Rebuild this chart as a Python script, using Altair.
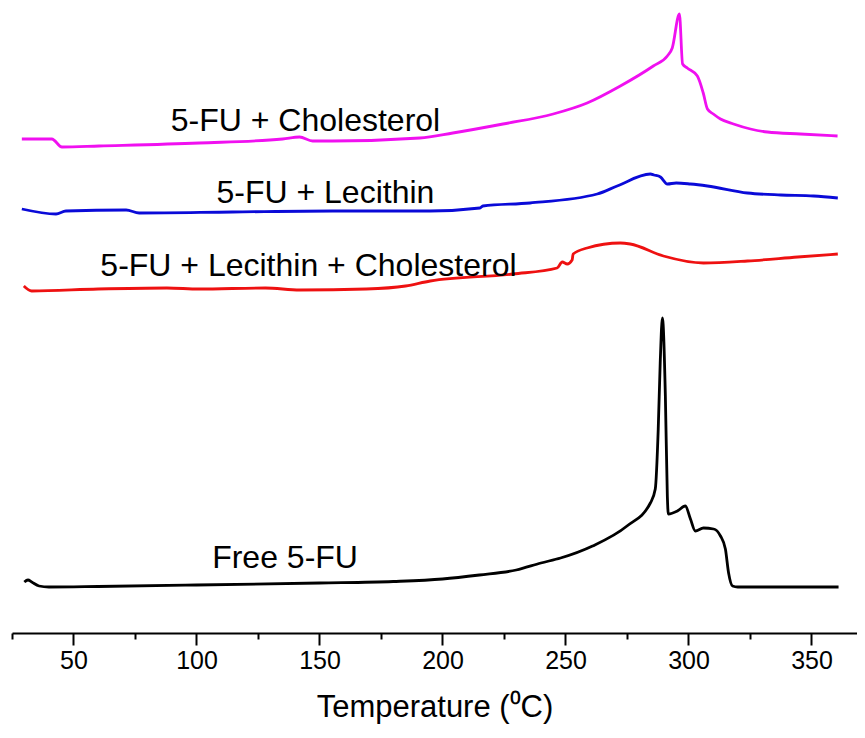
import altair as alt
import pandas as pd

# ---- data (heat flow in arbitrary, offset units) ----
free_t = [30, 31.5, 33, 36, 40, 60, 100, 150, 180, 200, 215, 230, 240, 248, 261, 275,
          284.5, 286.5, 287.7, 288.5, 289.4, 290.6, 291.4, 291.8, 295.5, 298.7, 300.8,
          302.8, 306.1, 310.2, 313, 315, 316.3, 317.9, 320, 361]
free_h = [5.1, 5.3, 5.1, 4.7, 4.6, 4.65, 4.8, 5.0, 5.15, 5.4, 5.8, 6.3, 7.0, 7.5, 8.7, 10.7,
          13.0, 14.4, 20.4, 27.0, 31.5, 23.7, 13.7, 11.9, 12.2, 12.7, 11.4,
          10.2, 10.5, 10.4, 9.7, 8.4, 6.0, 4.7, 4.6, 4.6]

chol_t = [29, 41.2, 45.3, 60.4, 101.1, 135, 141.9, 147.2, 155.3, 190.8, 204.2, 224.6, 245,
          258.8, 272.3, 285.7, 291.4, 293.4, 296.3, 297.6, 299.5, 303.6, 306, 307.7, 310.1,
          313, 318.3, 325.2, 332.1, 345.5, 360.6]
chol_h = [49.4, 49.4, 48.6, 48.7, 49.0, 49.4, 49.6, 49.2, 49.2, 49.5, 50.0, 50.9, 51.9,
          53.0, 54.7, 56.7, 57.7, 58.5, 61.9, 56.9, 56.5, 55.7, 54.0, 52.4, 51.9,
          51.4, 50.9, 50.4, 50.1, 49.9, 49.7]

lec_t = [29, 42.9, 46.9, 71.4, 76.7, 114.6, 155.3, 194.9, 215.2, 216.4, 235.6, 262.9, 271,
         284.5, 286, 288.6, 291.4, 295, 300.8, 307.7, 324, 337.5, 350.9, 360.7]
lec_h = [42.4, 41.9, 42.2, 42.3, 42.0, 42.1, 42.2, 42.2, 42.5, 42.7, 43.0, 43.9, 44.7,
         45.9, 45.8, 45.6, 44.9, 45.0, 44.9, 44.7, 44.0, 43.8, 43.7, 43.5]

lc_t = [29.8, 33, 60, 88, 101, 128, 142, 169, 185, 195, 228.7, 246.6, 248.7, 250.7, 252.7,
        253.1, 258.8, 272.3, 276.3, 289.8, 306.1, 324, 344.4, 360.7]
lc_h = [34.7, 34.2, 34.4, 34.5, 34.4, 34.5, 34.3, 34.4, 34.7, 35.2, 35.9, 36.5, 37.1, 36.9, 37.3,
        37.9, 38.5, 39.0, 38.9, 37.7, 37.0, 37.2, 37.6, 37.9]

series_names = ["Free 5-FU", "5-FU + Cholesterol", "5-FU + Lecithin",
                "5-FU + Lecithin + Cholesterol"]
series_colors = ["#000000", "#F010F0", "#0A0AD8", "#EE1111"]

# label annotations (temperature, heat flow)
label_text = ["5-FU + Cholesterol", "5-FU + Lecithin", "5-FU + Lecithin + Cholesterol", "Free 5-FU"]
label_t = [144.3, 152.4, 145.5, 136.0]
label_h = [51.2, 44.0, 36.7, 7.5]

x_ticks = [25, 50, 75, 100, 125, 150, 175, 200, 225, 250, 275, 300, 325, 350]

rows = []
for name, ts, hs in [(series_names[0], free_t, free_h), (series_names[1], chol_t, chol_h),
                     (series_names[2], lec_t, lec_h), (series_names[3], lc_t, lc_h)]:
    for i, (t, h) in enumerate(zip(ts, hs)):
        rows.append({"series": name, "T": t, "H": h, "i": i})
df = pd.DataFrame(rows)
labels_df = pd.DataFrame({"text": label_text, "T": label_t, "H": label_h})

x_scale = alt.Scale(domain=[25, 368.5], nice=False, zero=False)
y_scale = alt.Scale(domain=[0, 62.5], nice=False, zero=False)

lines = alt.Chart(df).mark_line(strokeWidth=2.8, interpolate="monotone").encode(
    x=alt.X("T:Q", scale=x_scale,
            axis=alt.Axis(title="Temperature (⁰C)", values=x_ticks,
                          labelExpr="datum.value % 50 === 0 ? datum.label : ''",
                          tickSize={"condition": {"test": "datum.value % 50 === 0", "value": 12}, "value": 6},
                          grid=False, domainColor="black", domainWidth=2, tickColor="black",
                          tickWidth=2, labelFontSize=25, labelColor="black", labelFont="Liberation Sans",
                          labelPadding=3, titleFontSize=31, titleFont="Liberation Sans",
                          titleFontWeight="normal", titleColor="black", titlePadding=19)),
    y=alt.Y("H:Q", scale=y_scale, axis=None),
    color=alt.Color("series:N", scale=alt.Scale(domain=series_names, range=series_colors), legend=None),
    order="i:Q",
)

texts = alt.Chart(labels_df).mark_text(fontSize=32, font="Liberation Sans", color="black",
                                       align="center", baseline="middle").encode(
    x=alt.X("T:Q", scale=x_scale),
    y=alt.Y("H:Q", scale=y_scale),
    text="text:N",
)

chart = alt.layer(lines, texts).properties(
    width=845, height=625,
    autosize=alt.AutoSizeParams(type="none"),
    padding={"left": 4, "top": 0, "right": 0, "bottom": 91},
).configure_view(strokeWidth=0)

chart.save("out.html", embed_options={"renderer": "svg", "actions": False})
